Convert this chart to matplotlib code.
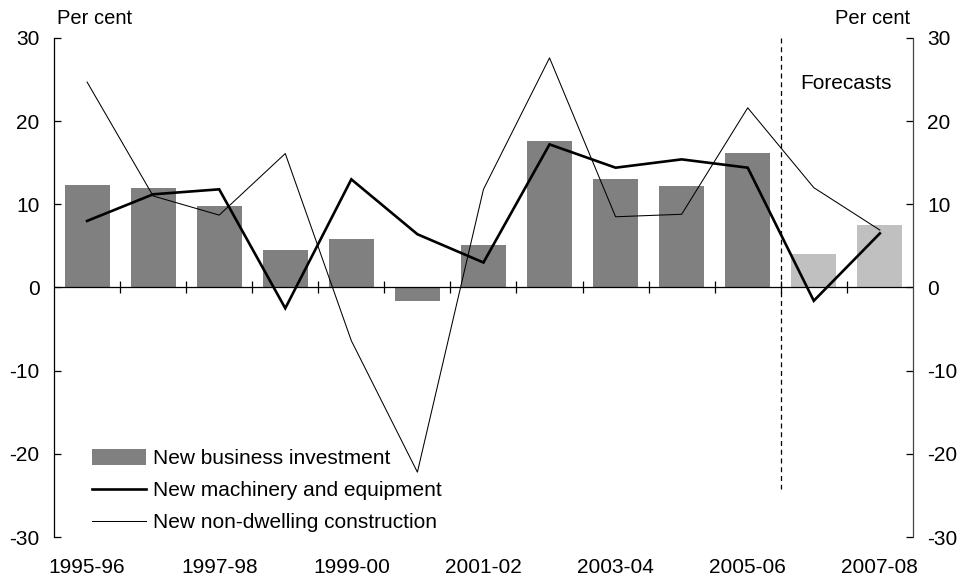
import matplotlib
matplotlib.use("Agg")
import matplotlib.pyplot as plt
import numpy as np
from matplotlib.patches import Patch
from matplotlib.lines import Line2D

plt.rcParams['font.family'] = ['Liberation Sans', 'DejaVu Sans']

years = ["1995-96", "1996-97", "1997-98", "1998-99", "1999-00", "2000-01", "2001-02",
         "2002-03", "2003-04", "2004-05", "2005-06", "2006-07", "2007-08"]
business_investment = [12.3, 12.0, 9.8, 4.5, 5.8, -1.6, 5.1, 17.6, 13.0, 12.2, 16.2, 4.0, 7.5]
is_forecast = [False] * 11 + [True, True]
machinery = [8.0, 11.2, 11.8, -2.5, 13.0, 6.4, 3.0, 17.2, 14.4, 15.4, 14.4, -1.6, 6.5]
construction = [24.7, 11.0, 8.7, 16.1, -6.4, -22.2, 11.8, 27.6, 8.5, 8.8, 21.6, 12.0, 6.9]
yticks = [30, 20, 10, 0, -10, -20, -30]

fig = plt.figure(figsize=(9.65, 5.79), dpi=100)
ax = fig.add_axes([0.056, 0.0725, 0.89, 0.862])

x = np.arange(len(years))
colors = ['#c0c0c0' if f else '#808080' for f in is_forecast]
ax.bar(x, business_investment, width=0.68, color=colors, zorder=2)
ax.plot(x, machinery, color='black', lw=1.9, zorder=4, solid_joinstyle='miter')
ax.plot(x, construction, color='black', lw=0.75, zorder=3)

ax.set_xlim(-0.5, len(years) - 0.5)
ax.set_ylim(-30, 30)
ax.axhline(0, color='black', lw=0.9, zorder=5)

# forecast divider
ax.plot([10.5, 10.5], [30, -24.2], color='black', lw=0.9, ls=(0, (4, 3)), zorder=5)
ax.text(11.48, 24.5, "Forecasts", ha='center', va='center', fontsize=15)

# spines
for s in ['top', 'bottom']:
    ax.spines[s].set_visible(False)
ax.spines['left'].set_linewidth(0.9)
ax.spines['right'].set_linewidth(0.9)
ax.spines['right'].set_color('#444444')

ax.set_yticks(yticks)
ax.set_yticklabels([str(v) for v in yticks])
ax.tick_params(axis='y', direction='in', length=5, width=0.9, labelsize=15, pad=10.5,
               left=True, right=True, labelleft=True, labelright=True)

ax.set_xticks(x[::2])
ax.set_xticklabels(years[::2])
ax.tick_params(axis='x', length=0, labelsize=15, pad=15)

sec = ax.secondary_xaxis(0.5)
sec.set_xticks(np.arange(0.5, len(years) - 1, 1.0))
sec.set_xticklabels([])
sec.tick_params(axis='x', direction='inout', length=9, width=0.9,
                labelbottom=False, labeltop=False)
for s in sec.spines.values():
    s.set_visible(False)

fig.text(0.059, 0.968, "Per cent", ha='left', va='center', fontsize=14.5)
fig.text(0.943, 0.968, "Per cent", ha='right', va='center', fontsize=14.5)

handles = [Patch(facecolor='#808080', edgecolor='none'),
           Line2D([], [], color='black', lw=1.9),
           Line2D([], [], color='black', lw=0.75)]
labels = ["New business investment", "New machinery and equipment", "New non-dwelling construction"]
ax.legend(handles, labels, loc='lower left', bbox_to_anchor=(0.044, 0.01), frameon=False,
          fontsize=15, handlelength=2.6, handleheight=0.75, handletextpad=0.35,
          labelspacing=0.62, borderaxespad=0, borderpad=0)

fig.savefig("out.png", dpi=100)
